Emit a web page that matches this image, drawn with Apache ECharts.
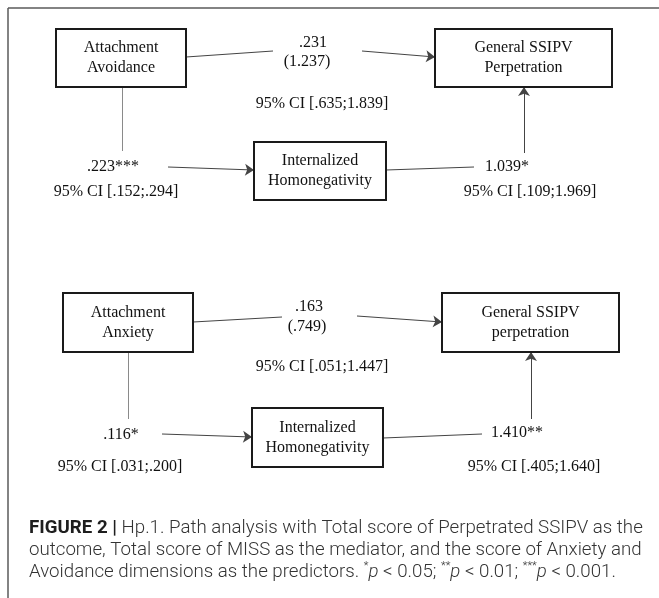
<!DOCTYPE html>
<html>
<head>
<meta charset="utf-8">
<script src="https://cdn.jsdelivr.net/npm/echarts@6/dist/echarts.min.js"></script>
<style>
  html, body { margin: 0; padding: 0; background: #ffffff; }
  #chart { width: 659px; height: 598px; }
</style>
</head>
<body>
<div id="chart"></div>
<script>
// ---------- values (text / coefficients) ----------
const predictors = ['Attachment\nAvoidance', 'Attachment\nAnxiety'];
const outcomes = ['General SSIPV\nPerpetration', 'General SSIPV\nperpetration'];
const mediators = ['Internalized\nHomonegativity', 'Internalized\nHomonegativity'];
const directEffects = ['.231', '.163'];
const directParens = ['(1.237)', '(.749)'];
const directCI = ['95% CI [.635;1.839]', '95% CI [.051;1.447]'];
const aPaths = ['.223***', '.116*'];
const aCI = ['95% CI [.152;.294]', '95% CI [.031;.200]'];
const bPaths = ['1.039*', '1.410**'];
const bCI = ['95% CI [.109;1.969]', '95% CI [.405;1.640]'];

// ---------- diagram layout (diagram units, y downward) ----------
const predictorBoxes = [[56, 29, 186, 87], [63, 293, 193, 352]];
const outcomeBoxes = [[435, 29, 612, 87], [442, 293, 619, 352]];
const mediatorBoxes = [[254, 142, 386, 200], [252, 408, 383, 467]];
const directLabelPos = [[313, 43], [309, 307]];
const directParenPos = [[307, 62], [307, 327]];
const directCIPos = [[322, 104], [322, 367]];
const aLabelPos = [[113, 167], [121, 435]];
const aCIPos = [[116, 192], [120, 467]];
const bLabelPos = [[507, 167], [517, 433]];
const bCIPos = [[530, 192], [534, 467]];
// path segments: [x0, y0, x1, y1]
const plainSegments = [
  [186, 57, 273, 51], [386, 170, 474, 167],
  [193, 322, 282, 317], [383, 438, 482, 434]
];
const greySegments = [
  [122, 87, 122, 151], [128, 352, 128, 419]
];
const arrowSegments = [
  [362, 51, 435, 57], [168, 167, 254, 170], [524, 153, 524, 87],
  [357, 316, 442, 322], [162, 434, 252, 437], [531, 419, 531, 352]
];
const frameSegments = [[8, 8, 659, 8], [8, 8, 8, 598]];

// ---------- build series data ----------
const boxData = [];
const boxText = [];
for (let i = 0; i < 2; i++) {
  boxData.push(predictorBoxes[i]); boxText.push(predictors[i]);
  boxData.push(outcomeBoxes[i]); boxText.push(outcomes[i]);
  boxData.push(mediatorBoxes[i]); boxText.push(mediators[i]);
}
const labelData = [];
const labelText = [];
for (let i = 0; i < 2; i++) {
  labelData.push(directLabelPos[i]); labelText.push(directEffects[i]);
  labelData.push(directParenPos[i]); labelText.push(directParens[i]);
  labelData.push(directCIPos[i]); labelText.push(directCI[i]);
  labelData.push(aLabelPos[i]); labelText.push(aPaths[i]);
  labelData.push(aCIPos[i]); labelText.push(aCI[i]);
  labelData.push(bLabelPos[i]); labelText.push(bPaths[i]);
  labelData.push(bCIPos[i]); labelText.push(bCI[i]);
}
const seg = s => ({ coords: [[s[0], s[1]], [s[2], s[3]]] });

const serif = '16px "Liberation Serif", "DejaVu Serif", serif';
const capSize = 18.7;

const chart = echarts.init(document.getElementById('chart'), null, { renderer: 'canvas' });
chart.setOption({
  animation: false,
  backgroundColor: '#ffffff',
  title: {
    left: 24,
    top: 512,
    text: '{b|FIGURE 2 |} Hp.1. Path analysis with Total score of Perpetrated SSIPV as the\n' +
          'outcome, Total score of MISS as the mediator, and the score of Anxiety and\n' +
          'Avoidance dimensions as the predictors. {s|*}{i|p} < 0.05; {s|**}{i|p} < 0.01; {s|***}{i|p} < 0.001.',
    textStyle: {
      fontFamily: 'Roboto',
      fontWeight: 300,
      fontSize: capSize,
      lineHeight: 22,
      color: '#333333',
      rich: {
        b: { fontFamily: 'Roboto', fontWeight: 'bold', fontSize: capSize, color: '#1e1e1e', lineHeight: 22 },
        i: { fontFamily: 'Roboto', fontWeight: 300, fontStyle: 'italic', fontSize: capSize, color: '#333333', lineHeight: 22 },
        s: { fontFamily: 'Roboto', fontWeight: 300, fontSize: 11, color: '#333333', verticalAlign: 'top', lineHeight: 22 }
      }
    }
  },
  grid: { left: 0, right: 0, top: 0, bottom: 0 },
  xAxis: { type: 'value', min: 0, max: 659, show: false },
  yAxis: { type: 'value', min: 0, max: 598, inverse: true, show: false },
  series: [
    {
      type: 'lines', coordinateSystem: 'cartesian2d', silent: true,
      symbol: ['none', 'none'],
      lineStyle: { color: '#5a5a5a', width: 1.5, opacity: 1 },
      data: frameSegments.map(seg), z: 1
    },
    {
      type: 'lines', coordinateSystem: 'cartesian2d', silent: true,
      symbol: ['none', 'none'],
      lineStyle: { color: '#444444', width: 1, opacity: 1 },
      data: plainSegments.map(seg), z: 2
    },
    {
      type: 'lines', coordinateSystem: 'cartesian2d', silent: true,
      symbol: ['none', 'none'],
      lineStyle: { color: '#8a8a8a', width: 1, opacity: 1 },
      data: greySegments.map(seg), z: 2
    },
    {
      type: 'lines', coordinateSystem: 'cartesian2d', silent: true,
      symbol: ['none', 'arrow'], symbolSize: 9,
      lineStyle: { color: '#444444', width: 1, opacity: 1 },
      itemStyle: { color: '#111111' },
      data: arrowSegments.map(seg), z: 3
    },
    {
      type: 'custom', coordinateSystem: 'cartesian2d', silent: true, z: 4,
      data: boxData,
      renderItem: function (params, api) {
        const p0 = api.coord([api.value(0), api.value(1)]);
        const p1 = api.coord([api.value(2), api.value(3)]);
        return {
          type: 'group',
          children: [
            { type: 'rect', shape: { x: p0[0], y: p0[1], width: p1[0] - p0[0], height: p1[1] - p0[1] },
              style: { fill: '#ffffff', stroke: '#1a1a1a', lineWidth: 2 } },
            { type: 'text', x: (p0[0] + p1[0]) / 2, y: (p0[1] + p1[1]) / 2,
              style: { text: boxText[params.dataIndex], align: 'center', verticalAlign: 'middle',
                       font: serif, lineHeight: 20, fill: '#111111' } }
          ]
        };
      }
    },
    {
      type: 'custom', coordinateSystem: 'cartesian2d', silent: true, z: 5,
      data: labelData,
      renderItem: function (params, api) {
        const p = api.coord([api.value(0), api.value(1)]);
        return {
          type: 'text', x: p[0], y: p[1],
          style: { text: labelText[params.dataIndex], align: 'center', verticalAlign: 'middle',
                   font: serif, fill: '#111111' }
        };
      }
    }
  ]
});
</script>
</body>
</html>
